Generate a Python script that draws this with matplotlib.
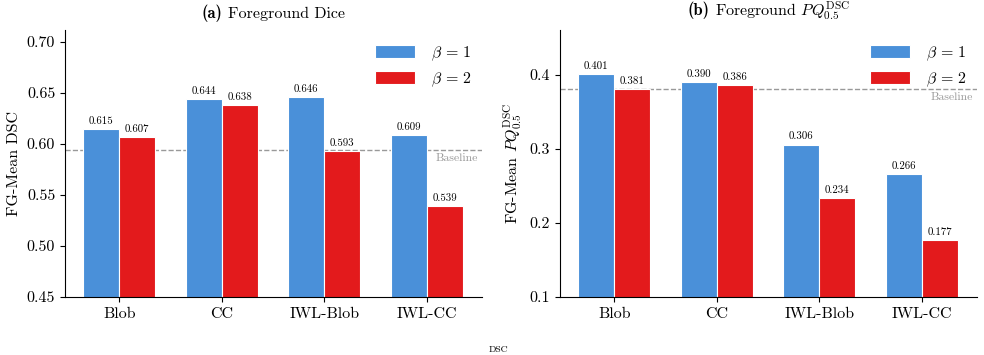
import matplotlib
matplotlib.use("Agg")
import matplotlib.pyplot as plt
from matplotlib.offsetbox import TextArea, HPacker, AnchoredOffsetbox
import numpy as np

plt.rcParams['font.family'] = ['cmr10', 'DejaVu Serif']
plt.rcParams['mathtext.fontset'] = 'cm'
plt.rcParams['axes.formatter.use_mathtext'] = True

categories = ["Blob", "CC", "IWL-Blob", "IWL-CC"]
dice_b1 = [0.615, 0.644, 0.646, 0.609]
dice_b2 = [0.607, 0.638, 0.593, 0.539]
dice_baseline = 0.594
pq_b1 = [0.401, 0.390, 0.306, 0.266]
pq_b2 = [0.381, 0.386, 0.234, 0.177]
pq_baseline = 0.381

BLUE = "#4A90D9"
RED = "#E31A1C"

fig = plt.figure(figsize=(9.84, 3.55), dpi=100)
ax1 = fig.add_axes([0.066, 0.163, 0.424, 0.753])
ax2 = fig.add_axes([0.569, 0.163, 0.424, 0.753])

x = np.arange(len(categories))
w = 0.35


def panel(ax, b1, b2, base, ylim, yticks, fmt, tag, title, ylabel):
    r1 = ax.bar(x - w / 2, b1, w, color=BLUE, edgecolor='white', linewidth=0.8, label=r'$\beta\, =\, 1$')
    r2 = ax.bar(x + w / 2, b2, w, color=RED, edgecolor='white', linewidth=0.8, label=r'$\beta\, =\, 2$')
    for rects, vals in ((r1, b1), (r2, b2)):
        for r, v in zip(rects, vals):
            ax.text(r.get_x() + r.get_width() / 2, v + (ylim[1] - ylim[0]) * 0.012, f"{v:.3f}",
                    ha='center', va='bottom', fontsize=7.8)
    ax.axhline(base, color='#999999', linestyle='--', linewidth=1.0, zorder=0.5)
    ax.text(3.50, base - (ylim[1] - ylim[0]) * 0.014, "Baseline", ha='right', va='top',
            fontsize=8.5, color='#999999')
    ax.set_xlim(-0.53, 3.54)
    ax.set_ylim(*ylim)
    ax.set_yticks(yticks)
    ax.set_yticklabels([fmt.format(t) for t in yticks])
    ax.set_xticks(x)
    ax.set_xticklabels(categories)
    ax.tick_params(labelsize=11.5)
    ax.spines['top'].set_visible(False)
    ax.spines['right'].set_visible(False)
    ax.set_ylabel(ylabel, fontsize=11.5)
    ax.legend(loc='upper right', frameon=False, fontsize=11.5, handlelength=2.5,
              handleheight=0.9, handletextpad=1.0, bbox_to_anchor=(1.01, 1.0))

    # title: bold tag + regular text
    t1 = TextArea(tag, textprops=dict(family='cmb10', size=12))
    t2 = TextArea(title, textprops=dict(size=11.5))
    box = HPacker(children=[t1, t2], align='baseline', pad=0, sep=4)
    anch = AnchoredOffsetbox(loc='lower center', child=box, pad=0, frameon=False,
                             bbox_to_anchor=(0.5, 1.03), bbox_transform=ax.transAxes,
                             borderpad=0)
    ax.add_artist(anch)


panel(ax1, dice_b1, dice_b2, dice_baseline, (0.45, 0.712),
      [0.45, 0.50, 0.55, 0.60, 0.65, 0.70], "{:.2f}",
      "(a)", "Foreground Dice", "FG-Mean DSC")
panel(ax2, pq_b1, pq_b2, pq_baseline, (0.1, 0.461),
      [0.1, 0.2, 0.3, 0.4], "{:.1f}",
      "(b)", r"Foreground $PQ_{0.5}^{\mathrm{DSC}}$",
      r"FG-Mean $PQ_{0.5}^{\mathrm{DSC}}$")

fig.text(0.507, 0.003, "DSC", fontsize=7, ha='center', va='bottom')

fig.savefig("out.png", dpi=100)
